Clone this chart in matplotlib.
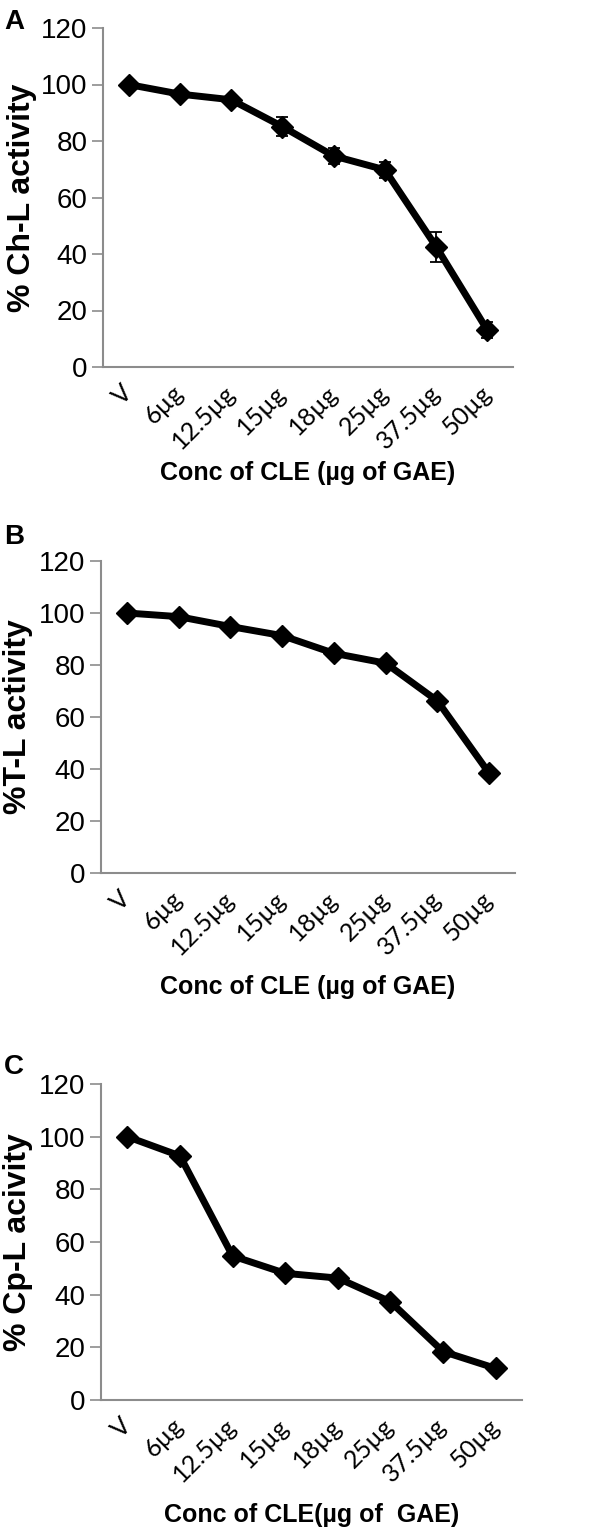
import matplotlib
matplotlib.use("Agg")
from matplotlib import pyplot as plt
import numpy as np

# data
doses = ["V", "6µg", "12.5µg", "15µg", "18µg", "25µg", "37.5µg", "50µg"]

chl_act = [100, 96.6, 94.6, 85.1, 74.7, 69.8, 42.6, 13.0]
chl_err = [0.8, 1.0, 1.0, 3.3, 2.7, 2.8, 5.3, 2.8]

tl_act = [100, 98.6, 94.8, 91.3, 84.5, 80.7, 66.2, 38.4]
tl_err = [0.8, 0.8, 1.0, 1.0, 1.0, 1.5, 1.2, 1.2]

cpl_act = [100, 92.7, 54.7, 48.1, 46.3, 37.3, 18.4, 12.0]
cpl_err = [0.8, 1.5, 1.8, 1.5, 1.5, 1.5, 1.5, 1.2]

W, H = 600, 1534
fig = plt.figure(figsize=(W / 100, H / 100), dpi=100)

def px_axes(left, right, top, bottom):
    return fig.add_axes([left / W, 1 - bottom / H, (right - left) / W, (bottom - top) / H])

# (axes box in px, values, errors, ylabel, xlabel, panel letter, ylabel x, xlabel y, letter y)
panels = [
    ((103, 513, 28, 367), chl_act, chl_err, "% Ch-L activity", "Conc of CLE (µg of GAE)", "A", 22, 473, 22),
    ((101, 515, 561, 873), tl_act, tl_err, "%T-L activity", "Conc of CLE (µg of GAE)", "B", 18, 987, 537),
    ((101, 522, 1084, 1400), cpl_act, cpl_err, "% Cp-L acivity", "Conc of CLE(µg of  GAE)", "C", 18, 1515, 1067),
]

grey = "#8c8c8c"
x = np.arange(len(doses))

for box, vals, errs, ylab, xlab, letter, ylx, xly, lety in panels:
    ax = px_axes(*box)
    ax.errorbar(x, vals, yerr=errs, color="black", lw=5, marker="D", ms=11,
                ecolor="black", elinewidth=1.3, capsize=4, capthick=1.3, zorder=3)
    ax.set_xlim(-0.5, len(doses) - 0.5)
    ax.set_ylim(0, 120)
    ax.set_yticks(range(0, 121, 20))
    ax.tick_params(axis="y", labelsize=20, length=8, width=1.2, color=grey, pad=3)
    for t in ax.get_yticklabels():
        t.set_fontfamily("Liberation Sans")
    ax.set_xticks(x)
    ax.set_xticklabels(doses, rotation=45, ha="right", va="center",
                       rotation_mode="anchor", fontsize=18, fontfamily="Lato")
    ax.tick_params(axis="x", length=0, pad=16)
    for s in ["top", "right"]:
        ax.spines[s].set_visible(False)
    for s in ["left", "bottom"]:
        ax.spines[s].set_color(grey)
        ax.spines[s].set_linewidth(1.5)
    fig.text(ylx / W, 1 - (box[2] + box[3]) / 2 / H, ylab, rotation=90, ha="center", va="center",
             fontsize=23, fontweight="bold", fontfamily="Liberation Sans")
    fig.text((box[0] + box[1]) / 2 / W, 1 - xly / H, xlab, ha="center", va="center",
             fontsize=18, fontweight="bold", fontfamily="Liberation Sans")
    fig.text(4 / W, 1 - lety / H, letter, ha="left", va="center",
             fontsize=20, fontweight="bold", fontfamily="Liberation Sans")

fig.savefig("out.png", dpi=100)
